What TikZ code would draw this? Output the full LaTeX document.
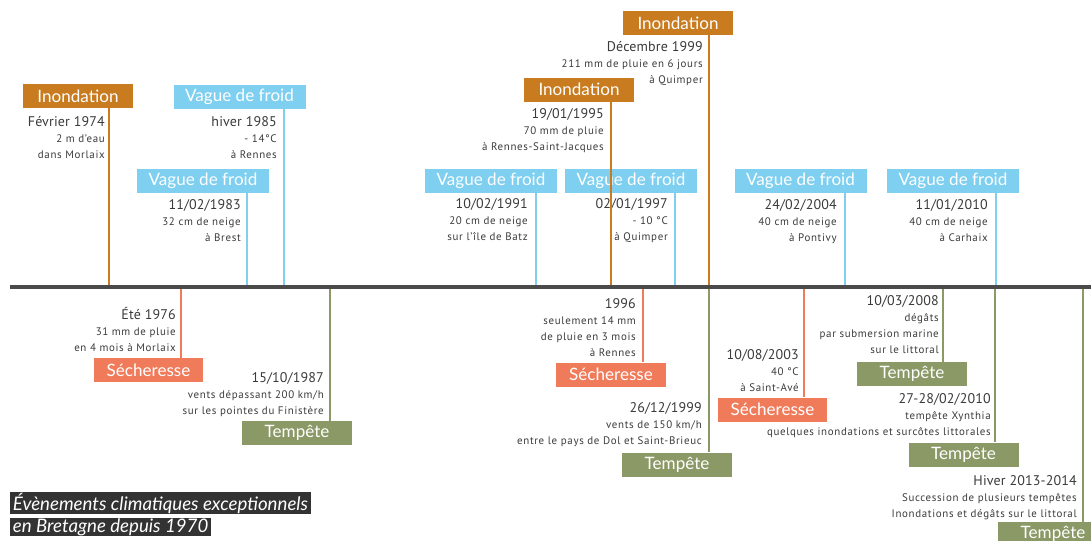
\documentclass[tikz,border=0pt]{standalone}
\usepackage{fontspec}
\setmainfont{PT Sans}[LetterSpace=6]
\newfontfamily\datefont{PT Sans}[LetterSpace=1]
\newfontfamily\boxfont{Lato}
\definecolor{inondcol}{HTML}{C87B1F}
\definecolor{froidcol}{HTML}{7ECFF0}
\definecolor{seccol}{HTML}{F07B5B}
\definecolor{tempcol}{HTML}{8B9966}
\definecolor{axecol}{HTML}{4A4A4A}
\definecolor{textcol}{HTML}{3A3A3A}
\definecolor{titlecol}{HTML}{333333}
\newcommand{\datesize}{\datefont\fontsize{10.5}{12}\selectfont}

\begin{document}
\begin{tikzpicture}[x=0.75pt, y=-0.75pt,
    evtbox/.style={font=\boxfont\fontsize{12.8}{12}\selectfont, text=white, minimum height=18pt, inner sep=0pt},
    inond/.style={evtbox, fill=inondcol, minimum width=82.5pt},
    froid/.style={evtbox, fill=froidcol, minimum width=99pt},
    sech/.style={evtbox, fill=seccol, minimum width=82pt},
    temp/.style={evtbox, fill=tempcol, minimum width=82.5pt},
    evtinfo/.style={anchor=north east, align=right, inner sep=0pt, text=textcol, font=\fontsize{8.2}{12}\selectfont},
    stemline/.style={line width=1.8pt},
    titlebox/.style={anchor=west, fill=titlecol, text=white, font=\boxfont\itshape\fontsize{14}{14}\selectfont, inner xsep=2pt, inner ysep=0.6pt}]
  \useasboundingbox (0,0) rectangle (1091,540);

  % axe du temps
  \coordinate (axL) at (10,287);
  \coordinate (axR) at (1091,287);

  % au-dessus de l'axe
  \node[inond] (i74) at (78,96) {Inondation};
  \node[evtinfo] (t74) at (105,116) {{\datesize Février 1974}\\2 m d'eau\\dans Morlaix};
  \coordinate (a74) at (109,287);

  \node[froid] (f85) at (239.5,97) {Vague de froid};
  \node[evtinfo] (t85) at (277,116) {{\datesize hiver 1985}\\- 14°C\\à Rennes};
  \coordinate (a85) at (284,287);

  \node[froid] (f83) at (203,180.5) {Vague de froid};
  \node[evtinfo] (t83) at (241,199) {{\datesize 11/02/1983}\\32 cm de neige\\à Brest};
  \coordinate (a83) at (247,287);

  \node[inond] (i99) at (678,23) {Inondation};
  \node[evtinfo] (t99) at (703,41) {{\datesize Décembre 1999}\\211 mm de pluie en 6 jours\\à Quimper};
  \coordinate (a99) at (709,287);

  \node[inond] (i95) at (579,89.5) {Inondation};
  \node[evtinfo] (t95) at (604,108) {{\datesize 19/01/1995}\\70 mm de pluie\\à Rennes-Saint-Jacques};
  \coordinate (a95) at (611,287);

  \node[froid] (f91) at (491,181) {Vague de froid};
  \node[evtinfo] (t91) at (528,198) {{\datesize 10/02/1991}\\20 cm de neige\\sur l'île de Batz};
  \coordinate (a91) at (536,287);

  \node[froid] (f97) at (631,181) {Vague de froid};
  \node[evtinfo] (t97) at (668,198) {{\datesize 02/01/1997}\\- 10 °C\\à Quimper};
  \coordinate (a97) at (675,287);

  \node[froid] (f04) at (800.5,181) {Vague de froid};
  \node[evtinfo] (t04) at (837,199) {{\datesize 24/02/2004}\\40 cm de neige\\à Pontivy};
  \coordinate (a04) at (845,287);

  \node[froid] (f10) at (953,181) {Vague de froid};
  \node[evtinfo] (t10) at (988,199) {{\datesize 11/01/2010}\\40 cm de neige\\à Carhaix};
  \coordinate (a10) at (996,287);

  % au-dessous de l'axe
  \node[sech] (s76) at (148.5,370) {Sécheresse};
  \node[evtinfo] (u76) at (176,307) {{\datesize Été 1976}\\31 mm de pluie\\en 4 mois à Morlaix};
  \coordinate (b76) at (181,287);

  \node[temp] (p87) at (297,433) {Tempête};
  \node[evtinfo] (u87) at (324,372) {{\datesize 15/10/1987}\\vents dépassant 200 km/h\\sur les pointes du Finistère};
  \coordinate (b87) at (330,287);

  \node[sech] (s96) at (611,374.5) {Sécheresse};
  \node[evtinfo] (u96) at (636,298) {{\datesize 1996}\\seulement 14 mm\\de pluie en 3 mois\\à Rennes};
  \coordinate (b96) at (643,287);

  \node[temp] (p99) at (677,464.5) {Tempête};
  \node[evtinfo] (u99) at (702,402) {{\datesize 26/12/1999}\\vents de 150 km/h\\entre le pays de Dol et Saint-Brieuc};
  \coordinate (b99) at (709,287);

  \node[sech] (s03) at (772.5,409.5) {Sécheresse};
  \node[evtinfo] (u03) at (799,349) {{\datesize 10/08/2003}\\40 °C\\à Saint-Avé};
  \coordinate (b03) at (804,287);

  \node[temp] (p08) at (912,374) {Tempête};
  \node[evtinfo] (u08) at (939,295) {{\datesize 10/03/2008}\\dégâts\\par submersion marine\\sur le littoral};
  \coordinate (b08) at (943,287);

  \node[temp] (p10) at (963.5,454.5) {Tempête};
  \node[evtinfo] (u10) at (991,393) {{\datesize 27-28/02/2010}\\tempête Xynthia\\quelques inondations et surcôtes littorales};
  \coordinate (b10) at (995,287);

  \node[temp] (p14) at (1053,534) {Tempête};
  \node[evtinfo] (u14) at (1077,475) {{\datesize Hiver 2013-2014}\\Succession de plusieurs tempêtes\\Inondations et dégâts sur le littoral};
  \coordinate (b14) at (1083,287);

  % tiges
  \draw[stemline, inondcol] (i74.south -| a74) -- (a74);
  \draw[stemline, froidcol] (f85.south -| a85) -- (a85);
  \draw[stemline, froidcol] (f83.south -| a83) -- (a83);
  \draw[stemline, froidcol] (f91.south -| a91) -- (a91);
  \draw[stemline, froidcol] (f97.south -| a97) -- (a97);
  \draw[stemline, inondcol] (i95.south -| a95) -- (a95);
  \draw[stemline, inondcol] (i99.south -| a99) -- (a99);
  \draw[stemline, froidcol] (f04.south -| a04) -- (a04);
  \draw[stemline, froidcol] (f10.south -| a10) -- (a10);
  \draw[stemline, seccol] (b76) -- (s76.north -| b76);
  \draw[stemline, tempcol] (b87) -- (p87.north -| b87);
  \draw[stemline, seccol] (b96) -- (s96.north -| b96);
  \draw[stemline, tempcol] (b99) -- (p99.north -| b99);
  \draw[stemline, seccol] (b03) -- (s03.north -| b03);
  \draw[stemline, tempcol] (b08) -- (p08.north -| b08);
  \draw[stemline, tempcol] (b10) -- (p10.north -| b10);
  \draw[stemline, tempcol] (b14) -- (p14.north -| b14);

  \draw[axecol, line width=3pt] (axL) -- (axR);

  % titre
  \node[titlebox] (titre1) at (10,503) {Évènements climatiques exceptionnels};
  \node[titlebox] (titre2) at (10,527) {en Bretagne depuis 1970};
\end{tikzpicture}
\end{document}
